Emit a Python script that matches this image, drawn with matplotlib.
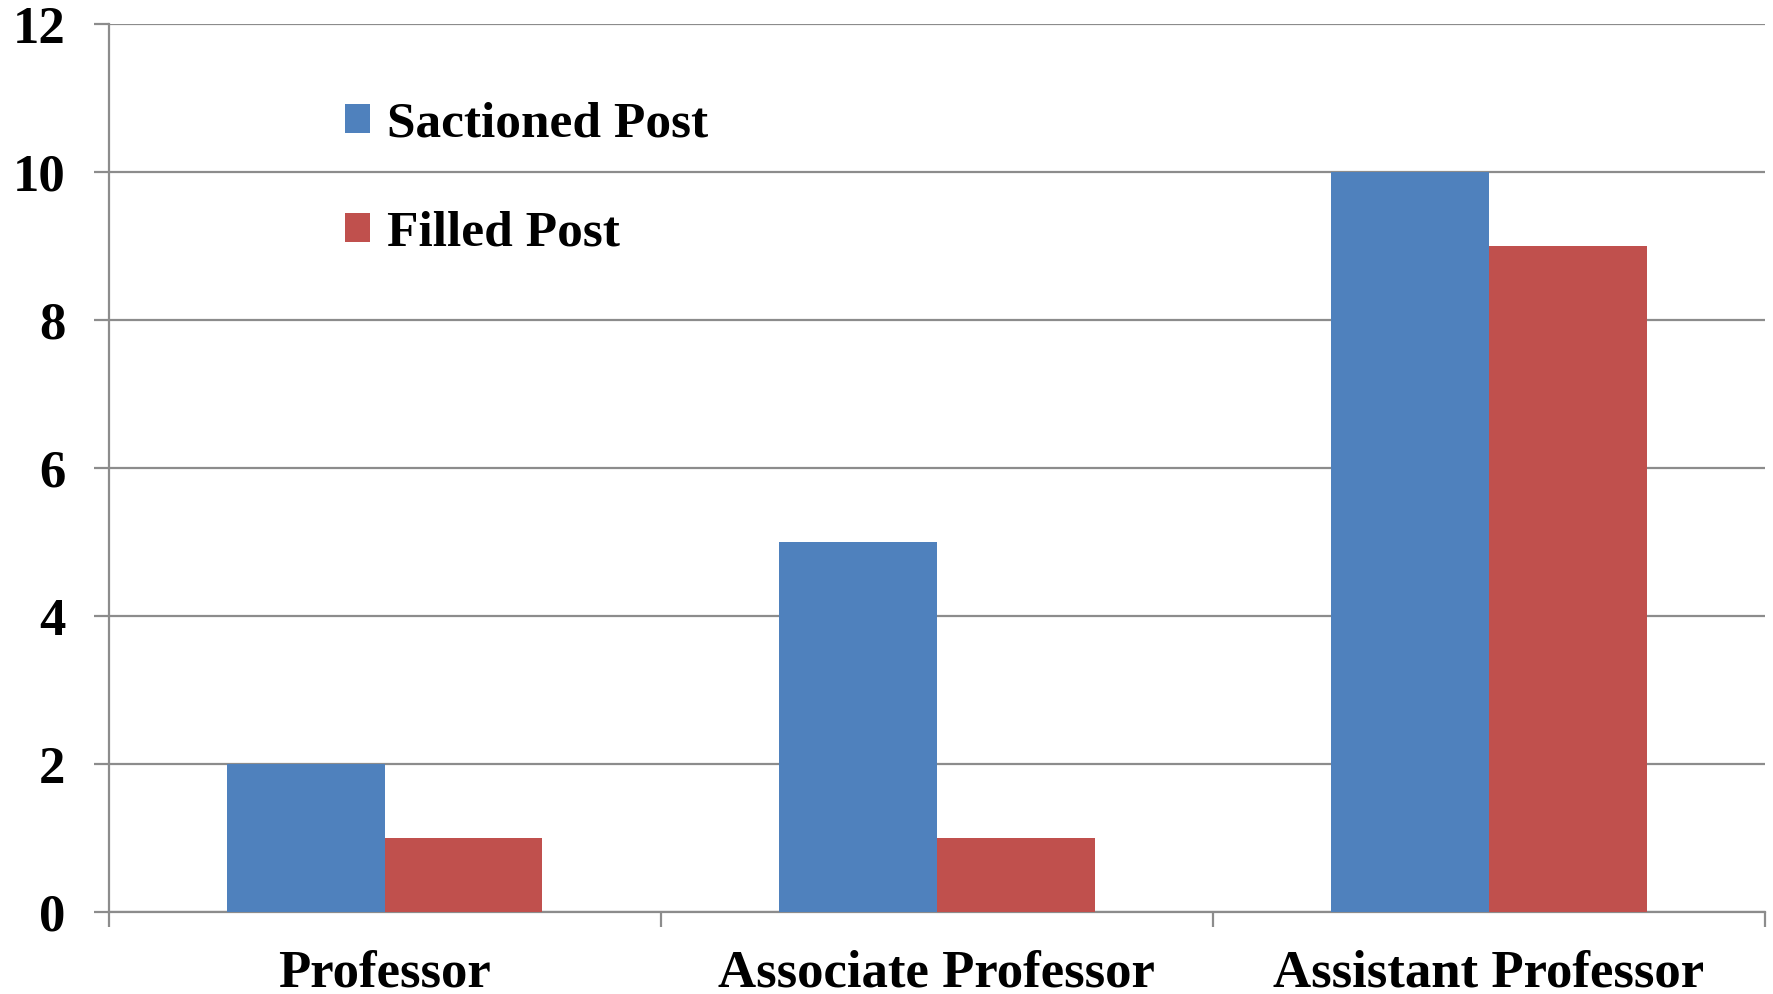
# Sanctioned vs filled posts by designation
import numpy as np
import matplotlib.pyplot as plt

# Datos
categorias = ['Professor', 'Associate Professor', 'Assistant Professor']
sanctioned = [2, 5, 10]
filled = [1, 1, 9]
series_names = ['Sactioned Post', 'Filled Post']
y_ticks = [0, 2, 4, 6, 8, 10, 12]

plt.rcParams['font.family'] = ['Liberation Serif', 'DejaVu Serif']
plt.rcParams['font.weight'] = 'bold'

fig = plt.figure(figsize=(17.74, 9.94), dpi=100)
ax = fig.add_axes([0.0612, 0.0825, 0.9338, 0.8929])

x = np.arange(len(categorias))
w = 1 / 3.5  # gap width 150%
b1 = ax.bar(x - w / 2, sanctioned, w, color='#4F81BD', label=series_names[0], zorder=3)
b2 = ax.bar(x + w / 2, filled, w, color='#C0504D', label=series_names[1], zorder=3)

ax.set_xlim(-0.5, 2.5)
ax.set_ylim(0, 12)
ax.set_yticks(y_ticks)
ax.yaxis.grid(True, color='#8c8c8c', linewidth=1.6, zorder=0)
ax.set_axisbelow(True)

# Etiquetas de categoría y ticks en los bordes
ax.set_xticks(x)
ax.set_xticklabels(categorias)
ax.set_xticks(np.arange(-0.5, 3, 1), minor=True)
ax.tick_params(axis='x', which='major', length=0, pad=27, labelsize=38)
ax.tick_params(axis='x', which='minor', length=11, width=1.6, color='#8c8c8c', direction='out')
ax.tick_params(axis='y', length=11, width=1.6, color='#8c8c8c', pad=20, labelsize=38)

for s in ['top', 'right']:
    ax.spines[s].set_visible(False)
for s in ['left', 'bottom']:
    ax.spines[s].set_color('#8c8c8c')
    ax.spines[s].set_linewidth(1.6)

ax.legend(loc='upper left', bbox_to_anchor=(0.115, 0.965), frameon=False,
          fontsize=37, handlelength=0.48, handleheight=0.48, handletextpad=0.33,
          labelspacing=1.22)

plt.savefig('out.png', dpi=100)
